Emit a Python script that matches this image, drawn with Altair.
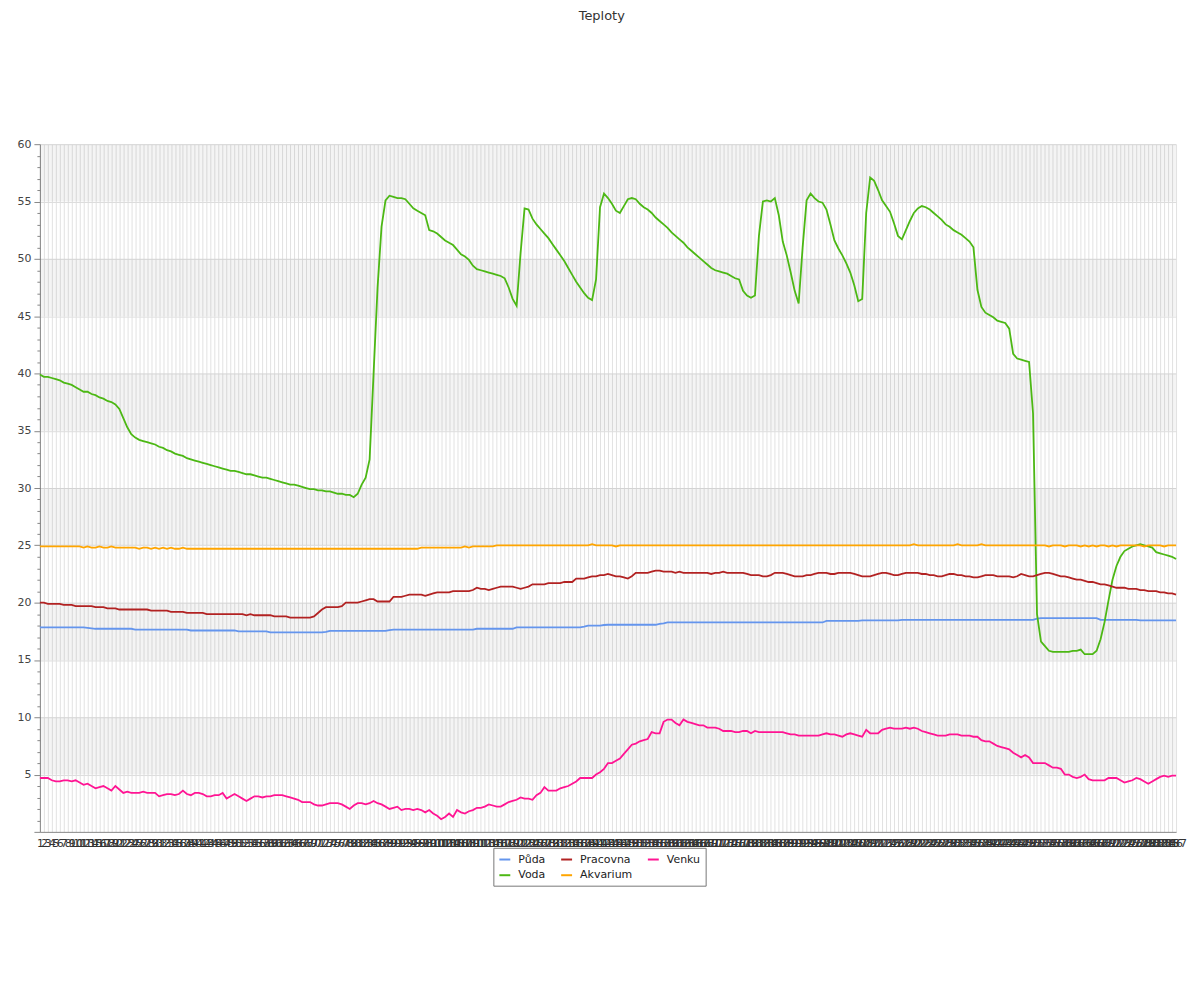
import altair as alt
import pandas as pd

labels = list(range(1, 288))

voda = [
    39.9, 39.7, 39.7, 39.6, 39.5, 39.4, 39.2, 39.1, 39.0, 38.8,
    38.6, 38.4, 38.4, 38.2, 38.1, 37.9, 37.8, 37.6, 37.5, 37.3,
    36.9, 36.1, 35.3, 34.7, 34.4, 34.2, 34.1, 34.0, 33.9, 33.8,
    33.6, 33.5, 33.3, 33.2, 33.0, 32.9, 32.8, 32.6, 32.5, 32.4,
    32.3, 32.2, 32.1, 32.0, 31.9, 31.8, 31.7, 31.6, 31.5, 31.5,
    31.4, 31.3, 31.2, 31.2, 31.1, 31.0, 30.9, 30.9, 30.8, 30.7,
    30.6, 30.5, 30.4, 30.3, 30.3, 30.2, 30.1, 30.0, 29.9, 29.9,
    29.8, 29.8, 29.7, 29.7, 29.6, 29.5, 29.5, 29.4, 29.4, 29.2,
    29.5, 30.3, 30.9, 32.5, 40.0, 47.5, 52.8, 55.1, 55.5, 55.4,
    55.3, 55.3, 55.2, 54.8, 54.4, 54.2, 54.0, 53.8, 52.5, 52.4,
    52.2, 51.9, 51.6, 51.4, 51.2, 50.8, 50.4, 50.2, 49.9, 49.4,
    49.1, 49.0, 48.9, 48.8, 48.7, 48.6, 48.5, 48.3, 47.5, 46.5,
    45.9, 50.5, 54.4, 54.3, 53.5, 53.0, 52.6, 52.2, 51.8, 51.3,
    50.8, 50.3, 49.8, 49.2, 48.6, 48.0, 47.5, 47.0, 46.6, 46.4,
    48.2, 54.5, 55.7, 55.3, 54.8, 54.2, 54.0, 54.6, 55.2, 55.3,
    55.2, 54.8, 54.5, 54.3, 54.0, 53.6, 53.3, 53.0, 52.7, 52.3,
    52.0, 51.7, 51.4, 51.0, 50.7, 50.4, 50.1, 49.8, 49.5, 49.2,
    49.0, 48.9, 48.8, 48.7, 48.5, 48.3, 48.2, 47.2, 46.8, 46.6,
    46.8, 52.0, 55.0, 55.1, 55.0, 55.3, 53.8, 51.5, 50.3, 48.8,
    47.2, 46.1, 51.0, 55.1, 55.7, 55.3, 55.0, 54.9, 54.3, 53.0,
    51.6, 50.9, 50.3, 49.6, 48.8, 47.7, 46.3, 46.5, 54.0, 57.1,
    56.8, 56.0, 55.1, 54.6, 54.1, 53.1, 52.0, 51.7, 52.5, 53.3,
    54.0, 54.4, 54.6, 54.5, 54.3, 54.0, 53.7, 53.4, 53.0, 52.8,
    52.5, 52.3, 52.1, 51.8, 51.5, 51.0, 47.3, 45.8, 45.3, 45.1,
    44.9, 44.6, 44.5, 44.4, 43.9, 41.7, 41.3, 41.2, 41.1, 41.0,
    36.5, 19.0, 16.6, 16.2, 15.8, 15.7, 15.7, 15.7, 15.7, 15.7,
    15.8, 15.8, 15.9, 15.5, 15.5, 15.5, 15.8, 16.8, 18.3, 20.2,
    22.0, 23.2, 24.0, 24.5, 24.7, 24.9, 25.0, 25.1, 25.0, 24.9,
    24.8, 24.4, 24.3, 24.2, 24.1, 24.0, 23.8,
]

akvarium = [
    24.9, 24.9, 24.9, 24.9, 24.9, 24.9, 24.9, 24.9, 24.9, 24.9,
    24.9, 24.8, 24.9, 24.8, 24.8, 24.9, 24.8, 24.8, 24.9, 24.8,
    24.8, 24.8, 24.8, 24.8, 24.8, 24.7, 24.8, 24.8, 24.7, 24.8,
    24.7, 24.8, 24.7, 24.8, 24.7, 24.7, 24.8, 24.7, 24.7, 24.7,
    24.7, 24.7, 24.7, 24.7, 24.7, 24.7, 24.7, 24.7, 24.7, 24.7,
    24.7, 24.7, 24.7, 24.7, 24.7, 24.7, 24.7, 24.7, 24.7, 24.7,
    24.7, 24.7, 24.7, 24.7, 24.7, 24.7, 24.7, 24.7, 24.7, 24.7,
    24.7, 24.7, 24.7, 24.7, 24.7, 24.7, 24.7, 24.7, 24.7, 24.7,
    24.7, 24.7, 24.7, 24.7, 24.7, 24.7, 24.7, 24.7, 24.7, 24.7,
    24.7, 24.7, 24.7, 24.7, 24.7, 24.7, 24.8, 24.8, 24.8, 24.8,
    24.8, 24.8, 24.8, 24.8, 24.8, 24.8, 24.8, 24.9, 24.8, 24.9,
    24.9, 24.9, 24.9, 24.9, 24.9, 25.0, 25.0, 25.0, 25.0, 25.0,
    25.0, 25.0, 25.0, 25.0, 25.0, 25.0, 25.0, 25.0, 25.0, 25.0,
    25.0, 25.0, 25.0, 25.0, 25.0, 25.0, 25.0, 25.0, 25.0, 25.1,
    25.0, 25.0, 25.0, 25.0, 25.0, 24.9, 25.0, 25.0, 25.0, 25.0,
    25.0, 25.0, 25.0, 25.0, 25.0, 25.0, 25.0, 25.0, 25.0, 25.0,
    25.0, 25.0, 25.0, 25.0, 25.0, 25.0, 25.0, 25.0, 25.0, 25.0,
    25.0, 25.0, 25.0, 25.0, 25.0, 25.0, 25.0, 25.0, 25.0, 25.0,
    25.0, 25.0, 25.0, 25.0, 25.0, 25.0, 25.0, 25.0, 25.0, 25.0,
    25.0, 25.0, 25.0, 25.0, 25.0, 25.0, 25.0, 25.0, 25.0, 25.0,
    25.0, 25.0, 25.0, 25.0, 25.0, 25.0, 25.0, 25.0, 25.0, 25.0,
    25.0, 25.0, 25.0, 25.0, 25.0, 25.0, 25.0, 25.0, 25.0, 25.0,
    25.1, 25.0, 25.0, 25.0, 25.0, 25.0, 25.0, 25.0, 25.0, 25.0,
    25.0, 25.1, 25.0, 25.0, 25.0, 25.0, 25.0, 25.1, 25.0, 25.0,
    25.0, 25.0, 25.0, 25.0, 25.0, 25.0, 25.0, 25.0, 25.0, 25.0,
    25.0, 25.0, 25.0, 25.0, 24.9, 25.0, 25.0, 25.0, 24.9, 25.0,
    25.0, 25.0, 24.9, 25.0, 24.9, 25.0, 24.9, 25.0, 25.0, 24.9,
    25.0, 24.9, 25.0, 25.0, 25.0, 25.0, 25.0, 25.0, 24.9, 25.0,
    25.0, 25.0, 25.0, 24.9, 25.0, 25.0, 25.0,
]

pracovna = [
    20.0, 20.0, 19.9, 19.9, 19.9, 19.9, 19.8, 19.8, 19.8, 19.7,
    19.7, 19.7, 19.7, 19.7, 19.6, 19.6, 19.6, 19.5, 19.5, 19.5,
    19.4, 19.4, 19.4, 19.4, 19.4, 19.4, 19.4, 19.4, 19.3, 19.3,
    19.3, 19.3, 19.3, 19.2, 19.2, 19.2, 19.2, 19.1, 19.1, 19.1,
    19.1, 19.1, 19.0, 19.0, 19.0, 19.0, 19.0, 19.0, 19.0, 19.0,
    19.0, 19.0, 18.9, 19.0, 18.9, 18.9, 18.9, 18.9, 18.9, 18.8,
    18.8, 18.8, 18.8, 18.7, 18.7, 18.7, 18.7, 18.7, 18.7, 18.8,
    19.1, 19.4, 19.6, 19.6, 19.6, 19.6, 19.7, 20.0, 20.0, 20.0,
    20.0, 20.1, 20.2, 20.3, 20.3, 20.1, 20.1, 20.1, 20.1, 20.5,
    20.5, 20.5, 20.6, 20.7, 20.7, 20.7, 20.7, 20.6, 20.7, 20.8,
    20.9, 20.9, 20.9, 20.9, 21.0, 21.0, 21.0, 21.0, 21.0, 21.1,
    21.3, 21.2, 21.2, 21.1, 21.2, 21.3, 21.4, 21.4, 21.4, 21.4,
    21.3, 21.2, 21.3, 21.4, 21.6, 21.6, 21.6, 21.6, 21.7, 21.7,
    21.7, 21.7, 21.8, 21.8, 21.8, 22.1, 22.1, 22.1, 22.2, 22.3,
    22.3, 22.4, 22.4, 22.5, 22.4, 22.3, 22.3, 22.2, 22.1, 22.3,
    22.6, 22.6, 22.6, 22.6, 22.7, 22.8, 22.8, 22.7, 22.7, 22.7,
    22.6, 22.7, 22.6, 22.6, 22.6, 22.6, 22.6, 22.6, 22.6, 22.5,
    22.6, 22.6, 22.7, 22.6, 22.6, 22.6, 22.6, 22.6, 22.5, 22.4,
    22.4, 22.4, 22.3, 22.3, 22.4, 22.6, 22.6, 22.6, 22.5, 22.4,
    22.3, 22.3, 22.3, 22.4, 22.4, 22.5, 22.6, 22.6, 22.6, 22.5,
    22.5, 22.6, 22.6, 22.6, 22.6, 22.5, 22.4, 22.3, 22.3, 22.3,
    22.4, 22.5, 22.6, 22.6, 22.5, 22.4, 22.4, 22.5, 22.6, 22.6,
    22.6, 22.6, 22.5, 22.5, 22.4, 22.4, 22.3, 22.3, 22.4, 22.5,
    22.5, 22.4, 22.4, 22.3, 22.3, 22.2, 22.2, 22.3, 22.4, 22.4,
    22.4, 22.3, 22.3, 22.3, 22.3, 22.2, 22.3, 22.5, 22.4, 22.3,
    22.3, 22.4, 22.5, 22.6, 22.6, 22.5, 22.4, 22.3, 22.3, 22.2,
    22.1, 22.0, 22.0, 21.9, 21.8, 21.8, 21.7, 21.6, 21.6, 21.5,
    21.4, 21.3, 21.3, 21.3, 21.2, 21.2, 21.2, 21.1, 21.1, 21.0,
    21.0, 21.0, 20.9, 20.9, 20.8, 20.8, 20.7,
]

puda = [
    17.84, 17.84, 17.84, 17.84, 17.84, 17.84, 17.84, 17.84, 17.84, 17.84,
    17.84, 17.84, 17.8, 17.76, 17.72, 17.72, 17.72, 17.72, 17.72, 17.72,
    17.72, 17.72, 17.72, 17.72, 17.65, 17.65, 17.65, 17.65, 17.65, 17.65,
    17.65, 17.65, 17.65, 17.65, 17.65, 17.65, 17.65, 17.65, 17.57, 17.57,
    17.57, 17.57, 17.57, 17.57, 17.57, 17.57, 17.57, 17.57, 17.57, 17.57,
    17.5, 17.5, 17.5, 17.5, 17.5, 17.5, 17.5, 17.5, 17.4, 17.4,
    17.4, 17.4, 17.4, 17.4, 17.4, 17.4, 17.4, 17.4, 17.4, 17.4,
    17.4, 17.4, 17.45, 17.53, 17.53, 17.53, 17.53, 17.53, 17.53, 17.53,
    17.53, 17.53, 17.53, 17.53, 17.53, 17.53, 17.53, 17.53, 17.6, 17.65,
    17.65, 17.65, 17.65, 17.65, 17.65, 17.65, 17.65, 17.65, 17.65, 17.65,
    17.65, 17.65, 17.65, 17.65, 17.65, 17.65, 17.65, 17.65, 17.65, 17.65,
    17.72, 17.72, 17.72, 17.72, 17.72, 17.72, 17.72, 17.72, 17.72, 17.72,
    17.84, 17.84, 17.84, 17.84, 17.84, 17.84, 17.84, 17.84, 17.84, 17.84,
    17.84, 17.84, 17.84, 17.84, 17.84, 17.84, 17.84, 17.9, 18.0, 18.0,
    18.0, 18.0, 18.05, 18.07, 18.07, 18.07, 18.07, 18.07, 18.07, 18.07,
    18.07, 18.07, 18.07, 18.07, 18.07, 18.07, 18.15, 18.2, 18.27, 18.27,
    18.27, 18.27, 18.27, 18.27, 18.27, 18.27, 18.27, 18.27, 18.27, 18.27,
    18.27, 18.27, 18.27, 18.27, 18.27, 18.27, 18.27, 18.27, 18.27, 18.27,
    18.27, 18.27, 18.27, 18.27, 18.27, 18.27, 18.27, 18.27, 18.27, 18.27,
    18.27, 18.27, 18.27, 18.27, 18.27, 18.27, 18.27, 18.27, 18.4, 18.4,
    18.4, 18.4, 18.4, 18.4, 18.4, 18.4, 18.4, 18.45, 18.45, 18.45,
    18.45, 18.45, 18.45, 18.45, 18.45, 18.45, 18.45, 18.5, 18.5, 18.5,
    18.5, 18.5, 18.5, 18.5, 18.5, 18.5, 18.5, 18.5, 18.5, 18.5,
    18.5, 18.5, 18.5, 18.5, 18.5, 18.5, 18.5, 18.5, 18.5, 18.5,
    18.5, 18.5, 18.5, 18.5, 18.5, 18.5, 18.5, 18.5, 18.5, 18.5,
    18.5, 18.6, 18.65, 18.65, 18.65, 18.65, 18.65, 18.65, 18.65, 18.65,
    18.65, 18.65, 18.65, 18.65, 18.65, 18.65, 18.65, 18.5, 18.5, 18.5,
    18.5, 18.5, 18.5, 18.5, 18.5, 18.5, 18.5, 18.45, 18.45, 18.45,
    18.45, 18.45, 18.45, 18.45, 18.45, 18.45, 18.45,
]

venku = [
    4.7, 4.7, 4.7, 4.5, 4.4, 4.4, 4.5, 4.5, 4.4, 4.5,
    4.3, 4.1, 4.2, 4.0, 3.8, 3.9, 4.0, 3.8, 3.6, 4.0,
    3.7, 3.4, 3.5, 3.4, 3.4, 3.4, 3.5, 3.4, 3.4, 3.4,
    3.1, 3.2, 3.3, 3.3, 3.2, 3.3, 3.6, 3.3, 3.2, 3.4,
    3.4, 3.3, 3.1, 3.1, 3.2, 3.2, 3.4, 2.9, 3.1, 3.3,
    3.1, 2.9, 2.7, 2.9, 3.1, 3.1, 3.0, 3.1, 3.1, 3.2,
    3.2, 3.2, 3.1, 3.0, 2.9, 2.8, 2.6, 2.6, 2.6, 2.4,
    2.3, 2.3, 2.4, 2.5, 2.5, 2.5, 2.4, 2.2, 2.0, 2.3,
    2.5, 2.5, 2.4, 2.5, 2.7, 2.5, 2.4, 2.2, 2.0, 2.1,
    2.2, 1.9, 2.0, 2.0, 1.9, 2.0, 1.9, 1.7, 1.9, 1.6,
    1.4, 1.1, 1.3, 1.6, 1.3, 1.9, 1.7, 1.6, 1.8, 1.9,
    2.1, 2.1, 2.2, 2.4, 2.3, 2.2, 2.2, 2.4, 2.6, 2.7,
    2.8, 3.0, 2.9, 2.9, 2.8, 3.2, 3.4, 3.9, 3.6, 3.6,
    3.6, 3.8, 3.9, 4.0, 4.2, 4.4, 4.7, 4.7, 4.7, 4.7,
    5.0, 5.2, 5.5, 6.0, 6.0, 6.2, 6.4, 6.8, 7.2, 7.6,
    7.7, 7.9, 8.0, 8.1, 8.7, 8.6, 8.6, 9.6, 9.8, 9.8,
    9.5, 9.3, 9.8, 9.6, 9.5, 9.4, 9.3, 9.3, 9.1, 9.1,
    9.1, 9.0, 8.8, 8.8, 8.8, 8.7, 8.7, 8.8, 8.8, 8.6,
    8.8, 8.7, 8.7, 8.7, 8.7, 8.7, 8.7, 8.7, 8.6, 8.5,
    8.5, 8.4, 8.4, 8.4, 8.4, 8.4, 8.4, 8.5, 8.6, 8.5,
    8.5, 8.4, 8.3, 8.5, 8.6, 8.5, 8.4, 8.3, 8.9, 8.6,
    8.6, 8.6, 8.9, 9.0, 9.1, 9.0, 9.0, 9.0, 9.1, 9.0,
    9.1, 9.0, 8.8, 8.7, 8.6, 8.5, 8.4, 8.4, 8.4, 8.5,
    8.5, 8.5, 8.4, 8.4, 8.4, 8.3, 8.3, 8.0, 7.9, 7.9,
    7.7, 7.5, 7.4, 7.3, 7.2, 6.9, 6.7, 6.5, 6.7, 6.5,
    6.0, 6.0, 6.0, 6.0, 5.8, 5.6, 5.6, 5.5, 5.0, 5.0,
    4.8, 4.7, 4.8, 5.0, 4.6, 4.5, 4.5, 4.5, 4.5, 4.7,
    4.7, 4.7, 4.5, 4.3, 4.4, 4.5, 4.7, 4.6, 4.4, 4.2,
    4.4, 4.6, 4.8, 4.9, 4.8, 4.9, 4.9,
]

# legend fills column by column (2 rows): Půda/Voda, Pracovna/Akvarium, Venku
series_names = ["Půda", "Voda", "Pracovna", "Akvarium", "Venku"]
series_colors = ["#6495ED", "#4CB814", "#B22222", "#FFA500", "#FF1493"]
series_values = [puda, voda, pracovna, akvarium, venku]

band_lo = [5, 15, 25, 35, 45, 55]
band_hi = [10, 20, 30, 40, 50, 60]

rows = []
for name, vals in zip(series_names, series_values):
    for lab, v in zip(labels, vals, strict=True):
        rows.append({"t": lab, "serie": name, "teplota": v})
df = pd.DataFrame(rows)
bands = pd.DataFrame({"lo": band_lo, "hi": band_hi})

W, H = 1140, 690
FONT = "DejaVu Sans"

y_scale = alt.Scale(domain=[0, 60], nice=False, zero=True)
y_axis = alt.Axis(
    title=None,
    values=list(range(0, 61)),
    labelExpr="datum.value % 5 === 0 && datum.value > 0 ? datum.label : ''",
    tickSize={"condition": {"test": "datum.value % 5 === 0", "value": 6}, "value": 3},
    gridOpacity={"condition": {"test": "datum.value % 5 === 0 && datum.value > 0", "value": 1}, "value": 0},
    gridColor="#dddddd",
    tickColor="#888888",
    domainColor="#888888",
    labelFontSize=11,
    labelFont=FONT,
    labelColor="#444444",
    labelPadding=3,
)

band_layer = alt.Chart(bands).mark_rect(fill="#000000", opacity=0.045).encode(
    x=alt.value(0),
    x2=alt.value(W),
    y=alt.Y("lo:Q", scale=y_scale, axis=y_axis),
    y2="hi:Q",
)

lines = alt.Chart(df).mark_line(strokeWidth=1.8).encode(
    x=alt.X(
        "t:O",
        scale=alt.Scale(type="point", padding=0),
        axis=alt.Axis(
            title=None,
            labelAngle=0,
            labelOverlap=False,
            labelFontSize=11,
            labelFont=FONT,
            labelColor="#333333",
            labelPadding=6,
            ticks=False,
            grid=True,
            gridColor="#e2e2e2",
            domainColor="#888888",
        ),
    ),
    y=alt.Y("teplota:Q", scale=y_scale, axis=y_axis),
    color=alt.Color(
        "serie:N",
        scale=alt.Scale(domain=series_names, range=series_colors),
        legend=alt.Legend(
            title=None,
            orient="none",
            legendX=455,
            legendY=706,
            columns=3,
            symbolType="stroke",
            symbolStrokeWidth=2,
            symbolSize=120,
            labelFontSize=11,
            labelFont=FONT,
            labelColor="#222222",
            strokeColor="#777777",
            fillColor="#ffffff",
            padding=5,
            columnPadding=11,
            rowPadding=4,
            labelOffset=7,
        ),
    ),
)

chart = (
    alt.layer(band_layer, lines)
    .properties(
        width=W,
        height=H,
        title=alt.TitleParams(
            "Teploty",
            fontSize=13,
            font=FONT,
            fontWeight="normal",
            color="#333333",
            anchor="middle",
            frame="bounds",
            offset=116,
        ),
        padding={"left": 32, "top": 135, "right": 16, "bottom": 150},
        autosize="none",
    )
    .configure_view(stroke=None)
)

chart.save("out.html", embed_options={"renderer": "svg", "actions": False})
